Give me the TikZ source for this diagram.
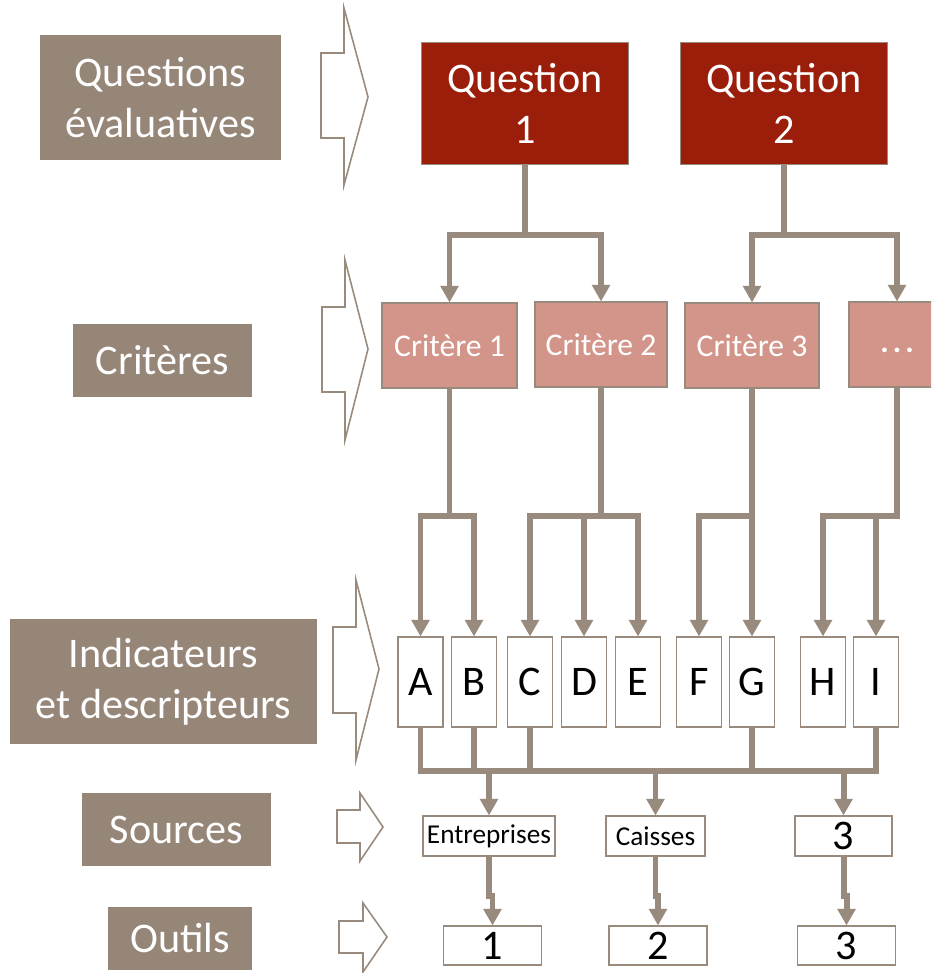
\documentclass[tikz,border=0pt]{standalone}
\usepackage{fontspec}
\setmainfont{Carlito}
\usepackage{tikz}
\usetikzlibrary{arrows.meta}

\definecolor{taupe}{HTML}{968678}
\definecolor{edge}{HTML}{998A7E}
\definecolor{qred}{HTML}{9B1E0B}
\definecolor{cpink}{HTML}{D3948A}

\begin{document}
\begin{tikzpicture}[x=0.02cm, y=-0.02cm,
	side/.style={fill=taupe, text=white, align=center, inner sep=0pt, font=\fontsize{24}{29}\selectfont},
	quest/.style={fill=qred, draw=edge, thin, text=white, align=center, inner sep=0pt, minimum width=4.14cm, minimum height=2.44cm, font=\fontsize{24}{29}\selectfont},
	crit/.style={fill=cpink, draw=edge, semithick, text=white, inner sep=0pt, minimum height=1.7cm, font=\fontsize{18}{22}\selectfont},
	letter/.style={draw=edge, fill=white, semithick, inner sep=0pt, minimum width=0.9cm, minimum height=1.8cm, font=\fontsize{24}{29}\selectfont},
	srcbox/.style={draw=edge, semithick, inner sep=0pt, minimum height=0.8cm, font=\fontsize{15.5}{18}\selectfont},
	toolbox/.style={draw=edge, semithick, inner sep=0pt, minimum width=1.96cm, minimum height=0.78cm, font=\fontsize{24}{29}\selectfont},
	link/.style={draw=edge, line width=3.4pt, -{Triangle[width=10pt,length=9.5pt]}},
	bus/.style={draw=edge, line width=3.4pt},
	hollow/.style={draw=edge, line width=0.9pt, fill=white}]
			\useasboundingbox (0,0) rectangle (931,973);
			\clip (0,0) rectangle (931,973);

			% left column
			\node[side, minimum width=4.82cm, minimum height=2.5cm] (qlab) at (160.5,97.5) {Questions\\évaluatives};
			\node[side, minimum width=3.58cm, minimum height=1.46cm] (clab) at (162.5,360.5) {Critères};
			\node[side, minimum width=6.14cm, minimum height=2.5cm] (ilab) at (163.5,681.5) {Indicateurs\\et descripteurs};
			\node[side, minimum width=3.78cm, minimum height=1.46cm] (slab) at (176.5,829.5) {Sources};
			\node[side, minimum width=2.88cm, minimum height=1.26cm] (olab) at (180,938.5) {Outils};

			% hollow pointers
			\draw[hollow] (321,53) -- (344,53) -- (344,8) -- (368,97) -- (344,185) -- (344,138) -- (321,138) -- cycle;
			\draw[hollow] (322,307) -- (345,307) -- (345,260) -- (368,349) -- (345,440) -- (345,392) -- (322,392) -- cycle;
			\draw[hollow] (333,627) -- (356,627) -- (356,580) -- (379,669) -- (356,760) -- (356,713) -- (333,713) -- cycle;
			\draw[hollow] (337,810) -- (360,810) -- (360,793) -- (383,827) -- (360,861) -- (360,843) -- (337,843) -- cycle;
			\draw[hollow] (339,921) -- (363,921) -- (363,903) -- (387,937) -- (363,972) -- (363,953) -- (339,953) -- cycle;

			% questions and criteria
			\node[quest] (q1) at (525,103) {Question\\1};
			\node[quest] (q2) at (784,103) {Question\\2};
			\node[crit, minimum width=2.7cm] (c1) at (449.5,345.5) {Critère 1};
			\node[crit, minimum width=2.64cm] (c2) at (601,344.5) {Critère 2};
			\node[crit, minimum width=2.68cm] (c3) at (752,345.5) {Critère 3};
			\node[crit, minimum width=1.92cm] (c4) at (897,344.5) {\vphantom{Cg}\bfseries .\kern2.3pt.\kern2.3pt.};

			% indicators
			\node[letter] (A) at (420.5,682) {A};
			\node[letter] (B) at (474,682) {B};
			\node[letter] (C) at (530,682) {C};
			\node[letter] (D) at (584,682) {D};
			\node[letter] (E) at (638,682) {E};
			\node[letter] (F) at (699,682) {F};
			\node[letter] (G) at (752,682) {G};
			\node[letter] (H) at (823,682) {H};
			\node[letter] (I) at (876,682) {I};

			% sources and tools
			\node[srcbox, minimum width=2.64cm] (s1) at (489,836) {Entreprises};
			\node[srcbox, minimum width=1.98cm] (s2) at (655.5,836) {Caisses};
			\node[srcbox, minimum width=1.94cm, font=\fontsize{24}{29}\selectfont] (s3) at (843.5,836) {3};
			\node[toolbox] (o1) at (492.5,945.5) {1};
			\node[toolbox] (o2) at (658,945.5) {2};
			\node[toolbox] (o3) at (846.5,945.5) {3};

			\coordinate (top) at (0,235);
			\coordinate (mid) at (0,516);
			\coordinate (low) at (0,771);

			\draw[link] (q1.south) -- (q1.south |- top) -| (c1.north);
			\draw[link] (q1.south) -- (q1.south |- top) -| (c2.north);
			\draw[link] (q2.south) -- (q2.south |- top) -| (c3.north);
			\draw[link] (q2.south) -- (q2.south |- top) -| (c4.north);

			\draw[link] (c1.south) -- (c1.south |- mid) -| (A.north);
			\draw[link] (c1.south) -- (c1.south |- mid) -| (B.north);
			\draw[link] (c2.south) -- (c2.south |- mid) -| (C.north);
			\draw[link] (c2.south) -- (c2.south |- mid) -| (D.north);
			\draw[link] (c2.south) -- (c2.south |- mid) -| (E.north);
			\draw[link] (c3.south) -- (c3.south |- mid) -| (F.north);
			\draw[link] (c3.south) -- (c3.south |- mid) -| (G.north);
			\draw[link] (c4.south) -- (c4.south |- mid) -| (H.north);
			\draw[link] (c4.south) -- (c4.south |- mid) -| (I.north);

			\draw[bus] (A.south) |- (I.south |- low) -- (I.south);
			\draw[bus] (B.south) -- (B.south |- low);
			\draw[bus] (C.south) -- (C.south |- low);
			\draw[bus] (G.south) -- (G.south |- low);
			\draw[link] (s1.north |- low) -- (s1.north);
			\draw[link] (s2.north |- low) -- (s2.north);
			\draw[link] (s3.north |- low) -- (s3.north);

			\draw[link] (s1.south) -- ++(0,39) -| (o1.north);
			\draw[link] (s2.south) -- ++(0,39) -| (o2.north);
			\draw[link] (s3.south) -- ++(0,39) -| (o3.north);
		\end{tikzpicture}
\end{document}
